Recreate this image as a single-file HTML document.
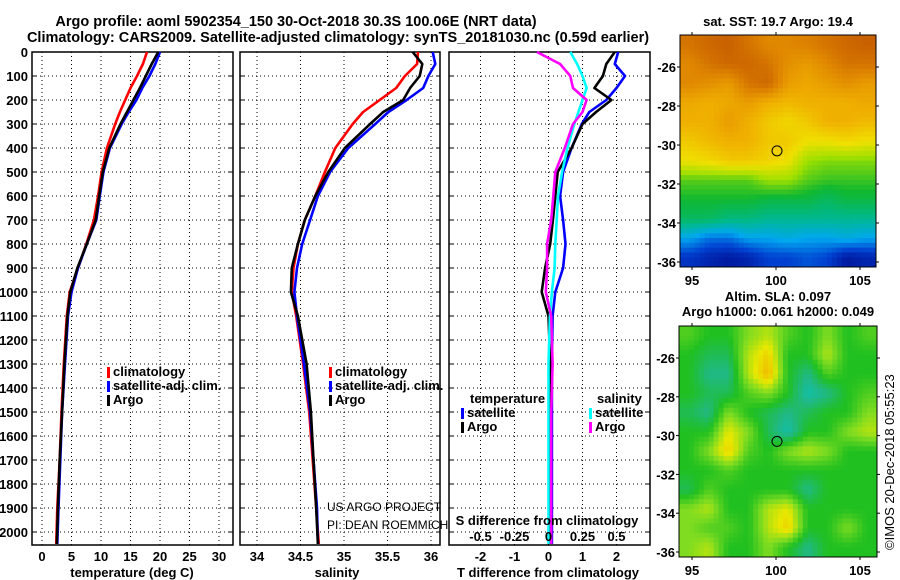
<!DOCTYPE html>
<html><head><meta charset="utf-8"><style>
body{margin:0;background:#fff;}
svg{display:block;font-family:"Liberation Sans",sans-serif;}
.t{font-weight:bold;font-size:13px;fill:#000;}
.ti{font-weight:bold;font-size:14.5px;fill:#000;}
</style></head><body>
<svg id="c" width="900" height="580" viewBox="0 0 900 580"></svg>
<script>
// ---- data ----
const depthTicks=[0,100,200,300,400,500,600,700,800,900,1000,1100,1200,1300,1400,1500,1600,1700,1800,1900,2000];
const tempTicks=[0,5,10,15,20,25,30];
const salTicks=[34,34.5,35,35.5,36];
const salTickLabels=["34","34.5","35","35.5","36"];
const tdTicks=[-2,-1,0,1,2];
const sdTicks=[-0.5,-0.25,0,0.25,0.5];
const sdTickLabels=["-0.5","-0.25","0","0.25","0.5"];
const dep=[0,50,100,150,200,250,300,400,500,600,700,800,900,1000,1100,1300,1500,1700,1900,2050];
const tempClim=[17.8,17.1,16.1,15.0,14.1,13.2,12.4,11.0,10.1,9.5,8.8,7.5,6.1,4.7,4.2,3.7,3.3,3.0,2.6,2.4];
const tempSat=[20.0,19.2,18.2,17.0,16.0,14.7,13.5,11.5,10.4,9.8,9.2,7.6,6.1,5.0,4.4,3.9,3.4,3.1,2.8,2.6];
const tempArgo=[19.7,18.6,17.6,16.6,15.5,14.4,13.3,11.4,10.3,9.7,9.1,7.6,6.0,4.8,4.3,3.8,3.4,3.0,2.7,2.5];
const salClim=[35.85,35.84,35.70,35.60,35.41,35.22,35.10,34.90,34.78,34.67,34.55,34.47,34.42,34.40,34.45,34.53,34.60,34.64,34.68,34.71];
const salSat=[36.02,36.05,35.97,35.91,35.72,35.51,35.36,35.05,34.84,34.70,34.61,34.52,34.46,34.43,34.46,34.54,34.61,34.65,34.69,34.70];
const salArgo=[35.79,35.90,35.87,35.76,35.68,35.45,35.30,35.01,34.82,34.67,34.55,34.47,34.40,34.39,34.47,34.57,34.62,34.65,34.68,34.70];
const tdSat=[2.05,1.95,2.25,2.0,1.7,1.2,0.98,0.68,0.43,0.34,0.43,0.5,0.43,0.2,0.12,0.1,0.1,0.1,0.1,0.1];
const tdArgo=[1.95,1.7,1.6,1.35,1.85,1.4,1.0,0.68,0.27,0.2,0.13,0.05,-0.1,-0.2,0.0,0.05,0.05,0.05,0.05,0.05];
const sdSat=[0.16,0.21,0.25,0.28,0.25,0.22,0.19,0.14,0.10,0.07,0.06,0.05,0.045,0.025,0.01,0.0,0.0,0.0,0.0,0.0];
const sdArgo=[-0.085,0.085,0.16,0.18,0.28,0.25,0.18,0.12,0.05,0.035,0.02,-0.01,-0.01,-0.02,0.02,0.03,0.02,0.02,0.02,0.02];
const lonTicks=[95,100,105];
const latTicks=[-26,-28,-30,-32,-34,-36];
const sstGrid=[
[8.5,8.8,9,8.5,8,8,8.2,8.5,8.8,9],
[8,8.5,8.8,8.8,8.5,7.8,7.5,8,8.5,8.5],
[8,7.8,7.5,8.5,8.8,7.5,7.2,7.5,7.8,7.5],
[7.2,7,7.2,7.5,7,6.8,7,7,7,7.2],
[7,7,7.5,7,6.5,6.2,6.5,7,7,6.8],
[6.5,6.8,7,7,6.5,6.5,6,6,6.2,6],
[6,6.2,6.5,6.5,6.3,6,5,4.8,4.8,4.8],
[4.5,4.5,4.5,4.5,5,5,4.5,4.3,4.3,4.3],
[4,4,4,4,3.8,3.8,3.8,3.5,3.8,3.8],
[3.5,3.5,3.2,3.2,3,3,3,3,3,3],
[2,1.5,1.5,2,2,2.2,2,2,2.2,2],
[0.8,0.5,0.3,0.5,1,1,1.2,1,0.3,0.5]];
const slaGrid=[
[2.5,2,2,3,3.5,2.5,2,3,2,2.5],
[2,1.5,1.5,3.5,4.5,2,2,3.5,2,2],
[2,1,1,3.5,5,2,1,2.5,2,2],
[2,1.5,1.5,2.5,3,2,0.5,1,2,2.5],
[1.5,1,3,2,1.5,1,1.5,2,2,3],
[2,2,4,3,1.5,0.5,2,2,3,3.5],
[2,3,4.5,2.5,2,3,3.5,3,2,2],
[2,2,2.5,2,2,2,2,2,2,2],
[1.5,2.5,2,2,2,2,1,2,2,2],
[3,3.5,2,2,3.5,4,2,2,2,2],
[3,2.5,2.5,2,3.5,4.5,2,2,3,2],
[3,3.5,2,2,3,2,1,2,2,2]];
const argoLon=100.06, argoLat=-30.3;

// ---- helpers ----
const S=document.getElementById('c'),NS='http://www.w3.org/2000/svg';
function mk(tag,at,parent){const e=document.createElementNS(NS,tag);for(const k in at)e.setAttribute(k,at[k]);(parent||S).appendChild(e);return e;}
function txt(x,y,s,cls,anchor,name){const e=mk('text',{x:x,y:y,class:cls||'t','text-anchor':anchor||'start'});e.textContent=s;

return e;}
const y=d=>52+d*0.24;
const Y0=52,Y1=545;
const xT=v=>42+v*5.9, xS=v=>257+(v-34)*87, xTD=v=>548.5+v*34, xSD=v=>548.5+v*136;

function panel(x0,x1,grid,xf,name){
  const g=mk('g',{});
  
  
  mk('rect',{x:x0,y:Y0,width:x1-x0,height:Y1-Y0,fill:'#fff',stroke:'#000','stroke-width':1.5},g);
  grid.forEach(v=>{const X=xf(v);const l=mk('line',{x1:X,x2:X,y1:Y0,y2:Y1,stroke:'#000','stroke-width':1,'stroke-dasharray':'1,3'},g);
    });
  depthTicks.forEach(d=>{const l=mk('line',{x1:x0,x2:x1,y1:y(d),y2:y(d),stroke:'#000','stroke-width':1,'stroke-dasharray':'1,3'},g);
    
    mk('line',{x1:x0,x2:x0+4,y1:y(d),y2:y(d),stroke:'#000'},g);mk('line',{x1:x1-4,x2:x1,y1:y(d),y2:y(d),stroke:'#000'},g);});
  return g;
}
function series(vals,xf,color,name){
  const pts=vals.map((v,i)=>xf(v).toFixed(1)+','+y(dep[i]).toFixed(1)).join(' ');
  const p=mk('polyline',{points:pts,fill:'none',stroke:color,'stroke-width':2.6,'stroke-linejoin':'round'});
  
  
}
function legend(x,yy,color,label,name){
  const r=mk('rect',{x:x,y:yy-9,width:3,height:11,fill:color});
  
  
  txt(x+6,yy,label,'t','start',name);
}

// titles
txt(296,26,'Argo profile: aoml 5902354_150 30-Oct-2018 30.3S 100.06E (NRT data)','ti','middle','title-line-1');
txt(338,42,'Climatology: CARS2009. Satellite-adjusted climatology: synTS_20181030.nc (0.59d earlier)','ti','middle','title-line-2');

// panel 1 temperature
panel(32,233,tempTicks,xT,'temperature-panel');
depthTicks.forEach(d=>txt(28,y(d)+5,String(d),'t','end','depth-tick-label'));
tempTicks.forEach(v=>txt(xT(v),561,String(v),'t','middle','temp-tick-label'));
txt(132,577,'temperature (deg C)','t','middle','temp-axis-title');
series(tempClim,xT,'#ff0000','temp-climatology-line');
series(tempSat,xT,'#0000ff','temp-satellite-line');
series(tempArgo,xT,'#000000','temp-argo-line');
legend(107,376,'#ff0000','climatology','legend-climatology');
legend(107,390,'#0000ff','satellite-adj. clim.','legend-satellite');
legend(107,404,'#000000','Argo','legend-argo');

// panel 2 salinity
panel(240,440,salTicks,xS,'salinity-panel');
salTicks.forEach((v,i)=>txt(xS(v),561,salTickLabels[i],'t','middle','sal-tick-label'));
txt(337,577,'salinity','t','middle','sal-axis-title');
series(salClim,xS,'#ff0000','sal-climatology-line');
series(salSat,xS,'#0000ff','sal-satellite-line');
series(salArgo,xS,'#000000','sal-argo-line');
legend(329,376,'#ff0000','climatology','legend2-climatology');
legend(329,390,'#0000ff','satellite-adj. clim.','legend2-satellite');
legend(329,404,'#000000','Argo','legend2-argo');
const u1=txt(327,511,'US ARGO PROJECT','t','start','credit-project');u1.setAttribute('style','font-weight:normal;font-size:12px');
const u2=txt(327,529,'PI: DEAN ROEMMICH','t','start','credit-pi');u2.setAttribute('style','font-weight:normal;font-size:12px');

// panel 3 differences
panel(449,650,tdTicks,xTD,'difference-panel');
tdTicks.forEach(v=>txt(xTD(v),561,String(v),'t','middle','td-tick-label'));
txt(548,577,'T difference from climatology','t','middle','td-axis-title');
series(tdSat,xTD,'#0000ff','td-satellite-line');
series(tdArgo,xTD,'#000000','td-argo-line');
series(sdSat,xSD,'#00ffff','sd-satellite-line');
series(sdArgo,xSD,'#ff00ff','sd-argo-line');
txt(470,403,'temperature','t','start','legend3-temp-header');
txt(597,403,'salinity','t','start','legend3-sal-header');
legend(461,417,'#0000ff','satellite','legend3-temp-satellite');
legend(461,431,'#000000','Argo','legend3-temp-argo');
legend(589,417,'#00ffff','satellite','legend3-sal-satellite');
legend(589,431,'#ff00ff','Argo','legend3-sal-argo');
txt(547,525,'S difference from climatology','t','middle','sd-axis-title');
sdTicks.forEach((v,i)=>txt(xSD(v),541,sdTickLabels[i],'t','middle','sd-tick-label'));

// maps
function lerpCol(stops,v){v=Math.max(0,Math.min(stops.length-1,v));const i=Math.min(stops.length-2,Math.floor(v)),f=v-i;
  const a=stops[i],b=stops[i+1];return 'rgb('+a.map((c,k)=>Math.round(c+(b[k]-c)*f)).join(',')+')';}
const sstStops=[[0,10,140],[0,64,208],[0,168,240],[0,184,144],[16,184,48],[160,224,0],[240,224,0],[240,176,0],[224,136,0],[200,96,0]];
const slaStops=[[0,200,200],[32,184,136],[32,192,32],[128,220,32],[232,232,0],[240,184,0]];
function sample(gridv,fr,fc){
  const R=gridv.length,C=gridv[0].length;
  fr=Math.max(0,Math.min(R-1,fr));fc=Math.max(0,Math.min(C-1,fc));
  const r0=Math.floor(fr),c0=Math.floor(fc),r1=Math.min(R-1,r0+1),c1=Math.min(C-1,c0+1),a=fr-r0,b=fc-c0;
  return gridv[r0][c0]*(1-a)*(1-b)+gridv[r0][c1]*(1-a)*b+gridv[r1][c0]*a*(1-b)+gridv[r1][c1]*a*b;
}
function map(x0,x1,y0,y1,lat26,lat36,gridv,stops,name,titleLines){
  const g=mk('g',{});
  
  
  const rows=gridv.length,cols=gridv[0].length,sub=4;
  const cw=(x1-x0)/(cols*sub),ch=(y1-y0)/(rows*sub);
  for(let r=0;r<rows*sub;r++)for(let c=0;c<cols*sub;c++){
    const v=sample(gridv,(r+0.5)/sub-0.5,(c+0.5)/sub-0.5);
    const cell=mk('rect',{x:(x0+c*cw).toFixed(2),y:(y0+r*ch).toFixed(2),width:(cw+0.4).toFixed(2),height:(ch+0.4).toFixed(2),fill:lerpCol(stops,v)},g);
    
    
  }
  mk('rect',{x:x0,y:y0,width:x1-x0,height:y1-y0,fill:'none',stroke:'#000'},g);
  const lx=lon=>692+(lon-95)*16.8, ly=lat=>lat26+(lat+26)/(-10)*(lat36-lat26);
  lonTicks.forEach(l=>{mk('line',{x1:lx(l),x2:lx(l),y1:y0-3,y2:y0,stroke:'#000'},g);mk('line',{x1:lx(l),x2:lx(l),y1:y1,y2:y1+3,stroke:'#000'},g);
    txt(lx(l),y1+18,String(l),'t','middle','lon-tick-label');});
  latTicks.forEach(l=>{mk('line',{x1:x0-3,x2:x0,y1:ly(l),y2:ly(l),stroke:'#000'},g);mk('line',{x1:x1,x2:x1+3,y1:ly(l),y2:ly(l),stroke:'#000'},g);
    txt(x0-4,ly(l)+5,String(l),'t','end','lat-tick-label');});
  const m=mk('circle',{cx:lx(argoLon),cy:ly(argoLat),r:5,fill:'none',stroke:'#000','stroke-width':1},g);
  
  
  titleLines.forEach((t,i)=>txt(778,t[1],t[0],'t','middle',name+'-title-'+(i+1)));
}
map(680,876,35,267,67,262,sstGrid,sstStops,'sst-map',[['sat. SST: 19.7 Argo: 19.4',26]]);
map(679,877,326,557,358,552,slaGrid,slaStops,'sla-map',[['Altim. SLA: 0.097',301],['Argo h1000: 0.061 h2000: 0.049',316]]);

const cr=txt(0,0,'©IMOS 20-Dec-2018 05:55:23','t','start','copyright-timestamp');
cr.setAttribute('style','font-weight:normal;font-size:13px');
cr.setAttribute('transform','translate(894,550) rotate(-90)');
</script>
</body></html>
